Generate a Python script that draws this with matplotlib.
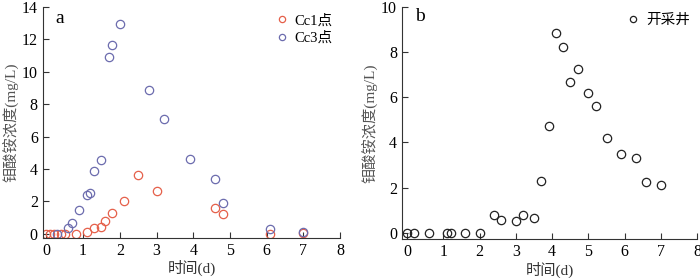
import matplotlib
matplotlib.use("Agg")
import matplotlib.pyplot as plt

plt.rcParams['font.family'] = ['Liberation Serif', 'Noto Sans CJK SC']
plt.rcParams['font.size'] = 11

# panel a
cc1_x = [0, 0.1, 0.2, 0.4, 0.5, 0.8, 1.1, 1.3, 1.5, 1.6, 1.8, 2.1, 2.5, 3.0, 4.6, 4.8, 6.1, 7.0]
cc1_y = [0, 0, 0, 0, 0, 0, 0.12, 0.35, 0.45, 0.8, 1.3, 2.0, 3.65, 2.65, 1.6, 1.25, 0.0, 0.03]
cc3_x = [0.3, 0.6, 0.7, 0.9, 1.1, 1.2, 1.3, 1.5, 1.7, 1.8, 2.0, 2.8, 3.2, 3.9, 4.6, 4.8, 6.1, 7.0]
cc3_y = [0, 0.35, 0.65, 1.5, 2.4, 2.55, 3.85, 4.55, 10.9, 11.65, 12.95, 8.85, 7.1, 4.6, 3.4, 1.9, 0.3, 0.1]

# panel b
well_x = [0, 0.2, 0.6, 1.1, 1.2, 1.6, 2.0, 2.4, 2.6, 3.0, 3.2, 3.5, 3.7, 3.9, 4.1,
          4.3, 4.5, 4.7, 5.0, 5.2, 5.5, 5.9, 6.3, 6.6, 7.0]
well_y = [0, 0, 0, 0, 0, 0, 0, 0.78, 0.58, 0.5, 0.78, 0.65, 2.3, 4.7, 8.85,
          8.2, 6.65, 7.25, 6.2, 5.6, 4.2, 3.5, 3.3, 2.25, 2.1]

ylabel = '钼酸铵浓度(mg/L)'
xlabel = '时间(d)'

fig = plt.figure(figsize=(7, 2.78), dpi=100)
ax1 = fig.add_axes([0.061, 0.144, 0.425, 0.832])
ax2 = fig.add_axes([0.574, 0.140, 0.422, 0.836])

red = '#e5604a'
blue = '#6c6cae'
ms = 6

ax1.plot(cc1_x, cc1_y, 'o', mfc='none', mec=red, ms=ms, mew=0.9, label='Cc1点')
ax1.plot(cc3_x, cc3_y, 'o', mfc='none', mec=blue, ms=ms, mew=0.9, label='Cc3点')
ax1.set_xlim(-0.1, 8)
ax1.set_ylim(-0.25, 14)
ax1.set_yticks(range(0, 15, 2))
ax1.text(0.37, 13.3, 'a', fontsize=14, ha='center', va='center')

ax2.plot(well_x, well_y, 'o', mfc='none', mec='#222222', ms=ms, mew=0.9, label='开采井')
ax2.set_xlim(-0.15, 8)
ax2.set_ylim(-0.28, 10)
ax2.set_yticks(range(0, 11, 2))
ax2.text(0.36, 9.55, 'b', fontsize=14, ha='center', va='center')

for ax in (ax1, ax2):
    ax.set_xticks(range(0, 9))
    ax.spines['top'].set_visible(False)
    ax.spines['right'].set_visible(False)
    for s in ('left', 'bottom'):
        ax.spines[s].set_color('#333333')
    ax.tick_params(direction='in', length=4, color='#333333', labelsize=11.5, pad=3.5)
    ax.set_xlabel(xlabel, fontsize=11, color='#333333', labelpad=1)
    ax.set_ylabel(ylabel, fontsize=11, color='#555555', labelpad=2)
    leg = ax.legend(loc='upper right', frameon=False, markerscale=0.75,
                    handletextpad=0.3, borderaxespad=0.1, fontsize=10.5,
                    labelspacing=0.3, handlelength=1.2)

fig.savefig('out.png', dpi=100)
